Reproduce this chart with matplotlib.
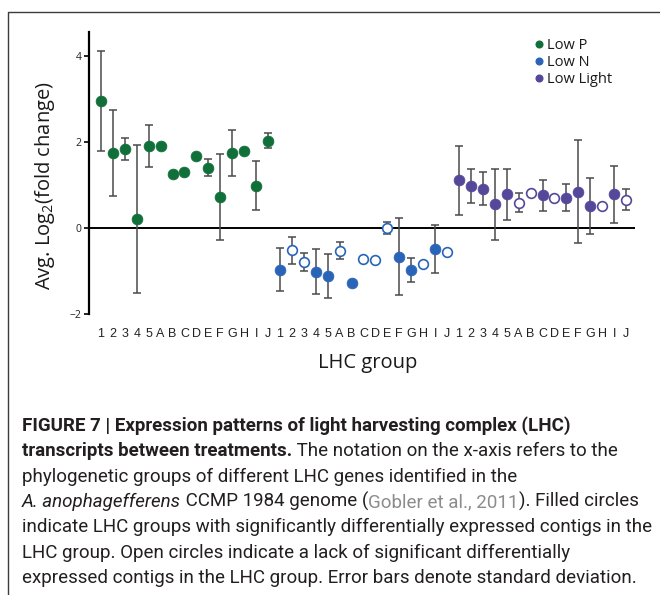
#!/usr/bin/env python3
"""LHC group expression dot plot (Low P / Low N / Low Light) with figure caption."""
import matplotlib
matplotlib.use("Agg")
import matplotlib.pyplot as plt
from matplotlib import font_manager
from matplotlib.lines import Line2D

GROUPS = ["1", "2", "3", "4", "5", "A", "B", "C", "D", "E", "F", "G", "H", "I", "J"]

low_p_mean = [2.95, 1.75, 1.83, 0.20, 1.90, 1.91, 1.26, 1.29, 1.66, 1.40, 0.72, 1.74, 1.78, 0.98, 2.03]
low_p_sd = [1.17, 1.00, 0.26, 1.72, 0.49, 0, 0, 0, 0, 0.20, 1.00, 0.53, 0, 0.57, 0.18]
low_p_sig = [1, 1, 1, 1, 1, 1, 1, 1, 1, 1, 1, 1, 1, 1, 1]

low_n_mean = [-0.97, -0.52, -0.79, -1.02, -1.12, -0.53, -1.28, -0.73, -0.75, 0.00, -0.67, -0.97, -0.84, -0.49, -0.56]
low_n_sd = [0.50, 0.31, 0.20, 0.52, 0.51, 0.20, 0, 0, 0, 0.14, 0.90, 0.28, 0, 0.56, 0]
low_n_sig = [1, 0, 0, 1, 1, 0, 1, 0, 0, 0, 1, 1, 0, 1, 0]

low_light_mean = [1.11, 0.97, 0.91, 0.55, 0.78, 0.59, 0.82, 0.76, 0.70, 0.70, 0.84, 0.51, 0.51, 0.78, 0.66]
low_light_sd = [0.80, 0.39, 0.38, 0.82, 0.60, 0.23, 0, 0.36, 0, 0.31, 1.20, 0.66, 0, 0.67, 0.25]
low_light_sig = [1, 1, 1, 1, 1, 0, 0, 1, 0, 1, 1, 1, 0, 1, 0]

TREATMENTS = ["Low P", "Low N", "Low Light"]
COLORS = ["#11703a", "#2a64b8", "#55479a"]

CAPTION = [
    [("FIGURE 7 | Expression patterns of light harvesting complex (LHC)", "bold")],
    [("transcripts between treatments.", "bold"),
     (" The notation on the x-axis refers to the", "normal")],
    [("phylogenetic groups of different LHC genes identified in the", "normal")],
    [("A. anophagefferens", "italic"), (" CCMP 1984 genome (", "normal"),
     ("Gobler et al., 2011", "link"), ("). Filled circles", "normal")],
    [("indicate LHC groups with significantly differentially expressed contigs in the", "normal")],
    [("LHC group. Open circles indicate a lack of significant differentially", "normal")],
    [("expressed contigs in the LHC group. Error bars denote standard deviation.", "normal")],
]

W, H = 660, 595
have = {f.name for f in font_manager.fontManager.ttflist}
CAP_FONT = "Liberation Sans Narrow" if "Liberation Sans Narrow" in have else "Roboto"
SANS = "Open Sans"

plt.rcParams["mathtext.fontset"] = "custom"
plt.rcParams["mathtext.rm"] = SANS
plt.rcParams["mathtext.it"] = SANS + ":italic"

fig = plt.figure(figsize=(W / 100, H / 100), dpi=100)


def px(x, y):
    """pixel (from top-left) -> figure fraction"""
    return x / W, 1 - y / H


# border of the figure panel (top and left edges only, rest is cropped)
fig.add_artist(Line2D([8 / W, 8 / W, 1], [0, 1 - 12 / H, 1 - 12 / H],
                      transform=fig.transFigure, color="#3c3c3c", lw=1.0))

left, top = px(89, 31.7)
right, bottom = px(635, 314)
ax = fig.add_axes([left, bottom, right - left, top - bottom])

series = [
    (low_p_mean, low_p_sd, low_p_sig),
    (low_n_mean, low_n_sd, low_n_sig),
    (low_light_mean, low_light_sd, low_light_sig),
]
for k, (means, sds, sig) in enumerate(series):
    color = COLORS[k]
    xs = [k * len(GROUPS) + i for i in range(len(GROUPS))]
    ex = [x for x, s in zip(xs, sds) if s > 0]
    ey = [m for m, s in zip(means, sds) if s > 0]
    es = [s for s in sds if s > 0]
    ax.errorbar(ex, ey, yerr=es, fmt="none", ecolor="#4a4a4a", elinewidth=1.1,
                capsize=3.2, capthick=1.1, zorder=2)
    fx = [x for x, f in zip(xs, sig) if f]
    fy = [m for m, f in zip(means, sig) if f]
    ox = [x for x, f in zip(xs, sig) if not f]
    oy = [m for m, f in zip(means, sig) if not f]
    ax.plot(fx, fy, "o", ms=7.8, mfc=color, mec=color, mew=0.5, zorder=3)
    ax.plot(ox, oy, "o", ms=7.0, mfc="white", mec=color, mew=1.2, zorder=3)

ax.axhline(0, color="black", lw=1.4, zorder=1)
ax.set_xlim(-1, 44.75)
ax.set_ylim(-2, 4.56)
for s in ["top", "right", "bottom"]:
    ax.spines[s].set_visible(False)
ax.spines["left"].set_linewidth(1.6)
ax.spines["left"].set_bounds(-2, 4.56)

ax.set_yticks([-2, 0, 2, 4])
ax.set_yticklabels(["\u22122", "0", "2", "4"], fontfamily=SANS, fontsize=7.5, color="#222222")
ax.tick_params(axis="y", length=3.5, width=1.2, pad=2)
ax.set_xticks(range(3 * len(GROUPS)))
ax.set_xticklabels(GROUPS * 3, fontfamily="Liberation Sans", fontsize=9, color="#222222")
ax.tick_params(axis="x", length=0, pad=10)

fig.text(*px(45, 186), r"Avg. Log$_2$(fold change)", rotation=90, ha="center", va="center",
         fontfamily=SANS, fontsize=14.5, color="#1a1a1a")
fig.text(*px(368, 363), "LHC group", ha="center", va="center",
         fontfamily=SANS, fontsize=14.5, color="#1a1a1a")

handles = [Line2D([], [], ls="none", marker="o", ms=4.8, mfc=c, mec=c) for c in COLORS]
fig.legend(handles, TREATMENTS, loc="upper left", bbox_to_anchor=px(528, 31),
           frameon=False, handlelength=0.5, handletextpad=0.3, labelspacing=0.14,
           borderpad=0, prop={"family": SANS, "size": 10.5}, labelcolor="#1a1a1a")

# caption, drawn piece by piece on a shared baseline
styles = {
    "bold": dict(fontweight="bold", color="#231f20"),
    "normal": dict(color="#231f20"),
    "italic": dict(fontstyle="italic", color="#231f20"),
    "link": dict(color="#8c8c8c"),
}
cap_size = 13.5
renderer = fig.canvas.get_renderer()


def text_width(s, style):
    probe = fig.text(0, 0, "|" + s + "|", fontfamily=CAP_FONT, fontsize=cap_size, **styles[style])
    bars = fig.text(0, 0, "||", fontfamily=CAP_FONT, fontsize=cap_size, **styles[style])
    w = probe.get_window_extent(renderer).width - bars.get_window_extent(renderer).width
    probe.remove()
    bars.remove()
    return w


base_y = 431
for i, line in enumerate(CAPTION):
    x = 22
    y = base_y + i * 25.3
    for s, style in line:
        fig.text(*px(x, y), s, ha="left", va="baseline", fontfamily=CAP_FONT,
                 fontsize=cap_size, **styles[style])
        x += text_width(s, style)

fig.savefig("out.png", dpi=100)
